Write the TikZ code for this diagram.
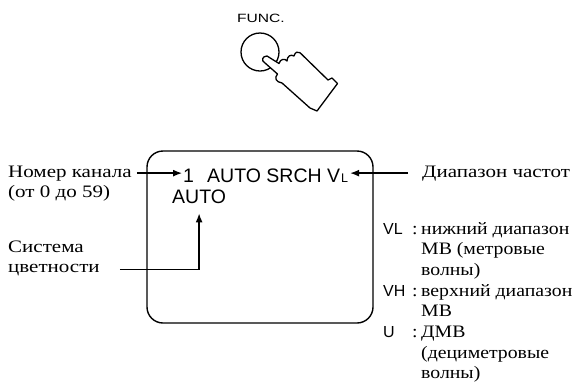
\documentclass[tikz,border=0pt]{standalone}
\usepackage{fontspec}
\setmainfont[FakeStretch=1.13]{Liberation Serif}
\newfontfamily\wideserif[FakeStretch=1.2]{Liberation Serif}
\newfontfamily\dispfont{Liberation Sans}
\usetikzlibrary{arrows.meta}
\begin{document}
\begin{tikzpicture}[x=1pt,y=-1pt,
  lbl/.style={anchor=base west, inner sep=0pt, font=\wideserif\fontsize{17.5}{21}\selectfont},
  legtxt/.style={anchor=base west, inner sep=0pt, font=\fontsize{17.5}{21}\selectfont},
  disp/.style={anchor=base west, inner sep=0pt, font=\dispfont\fontsize{19.5}{21}\selectfont},
  sub/.style={anchor=base west, inner sep=0pt, font=\dispfont\fontsize{12.5}{14}\selectfont},
  leg/.style={anchor=base west, inner sep=0pt, font=\dispfont\fontsize{16}{18}\selectfont},
  arr/.style={line width=1.3pt, -{Latex[length=9pt,width=7pt]}},
  outline/.style={line width=1.3pt, line join=round},
]
\useasboundingbox (0,0) rectangle (575,384);

% button and hand
\node[inner sep=0pt, anchor=base, font=\dispfont\fontsize{12}{13}\selectfont] (func) at (261,22) {\scalebox{1.3}[1]{FUNC.}};
\draw[outline] (260,52) circle[radius=19pt];
\draw[outline, fill=white] (300,52.7) -- (328,80) -- (332,78) -- (337.5,83.5) -- (317,111) -- (310,108) -- (282,83)
  .. controls (276,82) and (274,78) .. (277.5,74) -- (265,63)
  .. controls (261,61) and (262,56) .. (267,56) -- (279,63.5)
  .. controls (280,59) and (285,58) .. (287,61)
  .. controls (287,56) and (291,54) .. (294,56)
  .. controls (295,52) and (298,51) .. (300,52.7) -- cycle;

% screen
\node[draw, line width=1.4pt, rounded corners=16pt, minimum width=226pt, minimum height=172pt, inner sep=0pt] (screen) at (260,237) {};
\node[disp] (one) at (183,182) {1};
\node[disp] (mode) at (207,182) {AUTO SRCH V};
\node[sub] (band) at ([xshift=0.5pt]mode.base east) {L};
\node[disp] (auto) at (172,203) {AUTO};

% left labels
\node[lbl] (num1) at (8,177) {Номер канала};
\node[lbl] (num2) at (8,197) {(от 0 до 59)};
\node[lbl] (sys1) at (8,252) {Система};
\node[lbl] (sys2) at (8,272) {цветности};

% right label
\node[lbl] (diap) at (422,177) {Диапазон частот};

% legend
\node[leg] (vl) at (383,234) {VL};
\node[legtxt] (c1) at (412,234) {:};
\node[legtxt] (l1) at (421,234) {нижний диапазон};
\node[legtxt] (l2) at (421,254.7) {МВ (метровые};
\node[legtxt] (l3) at (421,275.4) {волны)};
\node[leg] (vh) at (383,296.1) {VH};
\node[legtxt] (c2) at (412,296.1) {:};
\node[legtxt] (l4) at (421,296.1) {верхний диапазон};
\node[legtxt] (l5) at (421,316.8) {МВ};
\node[leg] (u) at (383,337.5) {U};
\node[legtxt] (c3) at (412,337.5) {:};
\node[legtxt] (l6) at (421,337.5) {ДМВ};
\node[legtxt] (l7) at (421,358.2) {(дециметровые};
\node[legtxt] (l8) at (421,378.6) {волны)};

% connectors
\draw[arr] ([xshift=5pt]num1.east) -- ([xshift=-1pt]num1.east -| one.west);
\draw[arr] ([xshift=-14pt]diap.west) -- ([xshift=2pt]diap.west -| band.east);
\draw[arr] ([xshift=20pt]sys2.east) -| ([yshift=-10pt]auto.south);
\end{tikzpicture}
\end{document}
